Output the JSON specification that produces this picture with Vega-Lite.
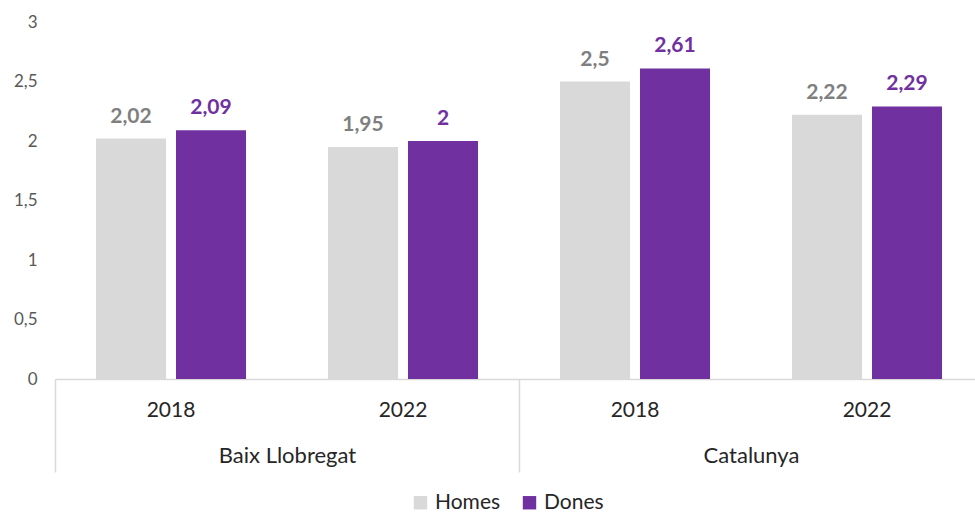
{
  "$schema": "https://vega.github.io/schema/vega-lite/v6.json",
  "width": 928,
  "height": 357,
  "autosize": "none",
  "padding": {"left": 55, "top": 22, "right": 0, "bottom": 134},
  "config": {
    "view": {"stroke": null},
    "font": "Lato",
    "locale": {"number": {"decimal": ",", "thousands": ".", "grouping": [3], "currency": ["", " €"]}}
  },
  "data": {
    "values": [
      {"region": "Baix Llobregat", "year": "2018", "key": "Baix Llobregat|2018", "sex": "Homes", "value": 2.02},
      {"region": "Baix Llobregat", "year": "2018", "key": "Baix Llobregat|2018", "sex": "Dones", "value": 2.09},
      {"region": "Baix Llobregat", "year": "2022", "key": "Baix Llobregat|2022", "sex": "Homes", "value": 1.95},
      {"region": "Baix Llobregat", "year": "2022", "key": "Baix Llobregat|2022", "sex": "Dones", "value": 2.0},
      {"region": "Catalunya", "year": "2018", "key": "Catalunya|2018", "sex": "Homes", "value": 2.5},
      {"region": "Catalunya", "year": "2018", "key": "Catalunya|2018", "sex": "Dones", "value": 2.61},
      {"region": "Catalunya", "year": "2022", "key": "Catalunya|2022", "sex": "Homes", "value": 2.22},
      {"region": "Catalunya", "year": "2022", "key": "Catalunya|2022", "sex": "Dones", "value": 2.29}
    ]
  },
  "layer": [
    {
      "encoding": {
        "x": {
          "field": "key", "type": "nominal", "sort": null,
          "scale": {"paddingInner": 0, "paddingOuter": 0},
          "axis": {
            "title": null, "labelAngle": 0, "ticks": false,
            "domain": true, "domainColor": "#D9D9D9", "domainWidth": 1.5,
            "labelExpr": "split(datum.value, '|')[1]",
            "labelFontSize": 21, "labelColor": "#262626",
            "labelBaseline": "middle", "labelPadding": 31
          }
        },
        "xOffset": {
          "field": "sex", "type": "nominal", "sort": ["Homes", "Dones"],
          "scale": {"paddingInner": 0.125, "paddingOuter": 0.5125}
        },
        "y": {
          "field": "value", "type": "quantitative",
          "scale": {"domain": [0, 3], "nice": false},
          "axis": {
            "title": null, "values": [0, 0.5, 1, 1.5, 2, 2.5, 3], "format": ".1~f",
            "domain": false, "ticks": false, "grid": false,
            "labelFontSize": 17, "labelColor": "#595959", "labelPadding": 18
          }
        }
      },
      "layer": [
        {
          "mark": {"type": "bar"},
          "encoding": {
            "color": {
              "field": "sex", "type": "nominal",
              "scale": {"domain": ["Homes", "Dones"], "range": ["#D9D9D9", "#7030A0"]},
              "legend": {
                "title": null, "orient": "none", "direction": "horizontal",
                "legendX": 355, "legendY": 470,
                "symbolType": "square", "symbolSize": 180, "symbolStrokeWidth": 0,
                "labelFontSize": 21, "labelColor": "#262626", "columnPadding": 18
              }
            }
          }
        },
        {
          "mark": {"type": "text", "fontWeight": "bold", "fontSize": 21, "baseline": "alphabetic", "dy": -16},
          "encoding": {
            "text": {"field": "value", "type": "quantitative", "format": ".2~f"},
            "color": {"condition": {"test": "datum.sex === 'Homes'", "value": "#7F7F7F"}, "value": "#7030A0"}
          }
        }
      ]
    },
    {
      "mark": {"type": "rule", "opacity": 0},
      "encoding": {
        "x": {
          "field": "region", "type": "nominal", "sort": null,
          "scale": {"paddingInner": 0, "paddingOuter": 0},
          "axis": {
            "orient": "bottom", "title": null, "labelAngle": 0,
            "domain": false, "ticks": true, "tickBand": "extent", "tickSize": 93,
            "tickColor": "#D9D9D9", "tickWidth": 1.5,
            "labelFontSize": 22, "labelColor": "#262626",
            "labelBaseline": "middle", "labelPadding": -17
          }
        }
      }
    }
  ],
  "resolve": {"scale": {"x": "independent"}, "axis": {"x": "independent"}}
}
